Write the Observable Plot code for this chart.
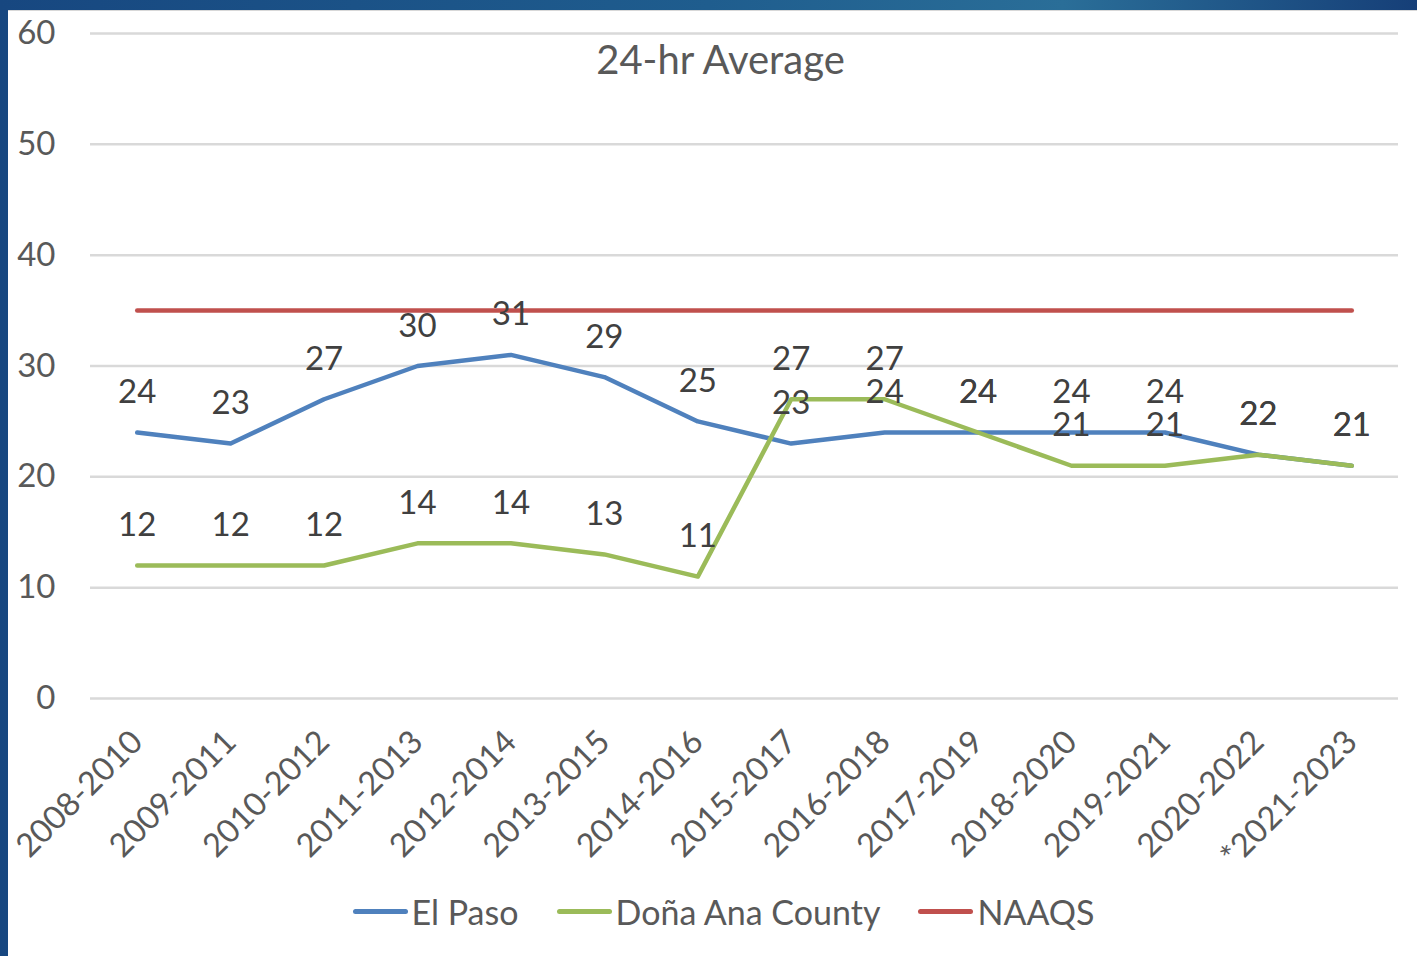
<!DOCTYPE html>
<html>
<head>
<meta charset="utf-8">
<script src="https://cdn.jsdelivr.net/npm/d3@7"></script>
<script src="https://cdn.jsdelivr.net/npm/@observablehq/plot@0.6"></script>
<style>
  html, body { margin: 0; padding: 0; }
  #frame {
    position: relative; width: 1417px; height: 956px; overflow: hidden;
    background: linear-gradient(90deg, #174780 0%, #1f5d8e 50%, #2a6e98 75%, #163f78 100%);
    font-family: Lato, "Open Sans", sans-serif;
  }
  #panel {
    position: absolute; left: 8px; top: 10px; right: 0; bottom: 0;
    background: #fff; border-top: 1px solid #d8d8d8;
  }
  #chart { position: absolute; left: 0; top: 0; }
  #legend {
    position: absolute; left: 15px; top: 891px; width: 1417px;
    display: flex; justify-content: center; gap: 38px;
    font-size: 34px; color: #595959; align-items: center;
  }
  .item { display: flex; align-items: center; gap: 4px; }
  .sw { width: 55px; height: 5px; border-radius: 3px; display: inline-block; }
</style>
</head>
<body>
<div id="frame">
  <div id="panel"></div>
  <div id="chart"></div>
  <div id="legend"></div>
</div>
<script>
const periods = ["2008-2010","2009-2011","2010-2012","2011-2013","2012-2014","2013-2015","2014-2016","2015-2017","2016-2018","2017-2019","2018-2020","2019-2021","2020-2022","*2021-2023"];
const elPaso = [24,23,27,30,31,29,25,23,24,24,24,24,22,21];
const donaAna = [12,12,12,14,14,13,11,27,27,24,21,21,22,21];
const naaqs = [35,35,35,35,35,35,35,35,35,35,35,35,35,35];
const seriesNames = ["El Paso","Doña Ana County","NAAQS"];
const seriesColors = ["#4f81bd","#9bbb59","#c0504d"];
const yTicks = [0,10,20,30,40,50,60];

const rows = [];
[elPaso, donaAna, naaqs].forEach((vals, i) => {
  vals.forEach((v, j) => rows.push({period: periods[j], value: v, series: seriesNames[i]}));
});
const labelRows = rows.filter(d => d.series !== "NAAQS");

const chart = Plot.plot({
  width: 1417,
  height: 956,
  marginLeft: 90,
  marginRight: 19,
  marginTop: 33,
  marginBottom: 258,
  style: {fontFamily: "Lato, 'Open Sans', sans-serif", background: "transparent", color: "#595959", overflow: "visible"},
  x: {type: "point", domain: periods, padding: 0.5, round: false, label: null},
  y: {domain: [0, 60], label: null},
  color: {domain: seriesNames, range: seriesColors},
  marks: [
    Plot.gridY(yTicks, {stroke: "#d9d9d9", strokeOpacity: 1, strokeWidth: 2.5}),
    Plot.axisY(yTicks, {tickSize: 0, tickPadding: 35, fontSize: 33, fill: "#595959", label: null}),
    Plot.axisX({tickSize: 0, tickRotate: -45, tickPadding: 38, fontSize: 32.5, fill: "#595959", label: null}),
    Plot.lineY(rows, {x: "period", y: "value", z: "series", stroke: "series", strokeWidth: 4.5, curve: "linear"}),
    Plot.text(labelRows, {x: "period", y: "value", text: d => String(d.value), dy: -40, fontSize: 33, fill: "#404040"}),
    Plot.text(["24-hr Average"], {frameAnchor: "top", dx: -24, dy: 12, fontSize: 40, fill: "#595959"})
  ]
});
document.getElementById("chart").appendChild(chart);

const legend = document.getElementById("legend");
seriesNames.forEach((name, i) => {
  const it = document.createElement("div");
  it.className = "item";
  const sw = document.createElement("span");
  sw.className = "sw";
  sw.style.background = seriesColors[i];
  const tx = document.createElement("span");
  tx.textContent = name;
  it.appendChild(sw); it.appendChild(tx);
  legend.appendChild(it);
});
</script>
</body>
</html>
